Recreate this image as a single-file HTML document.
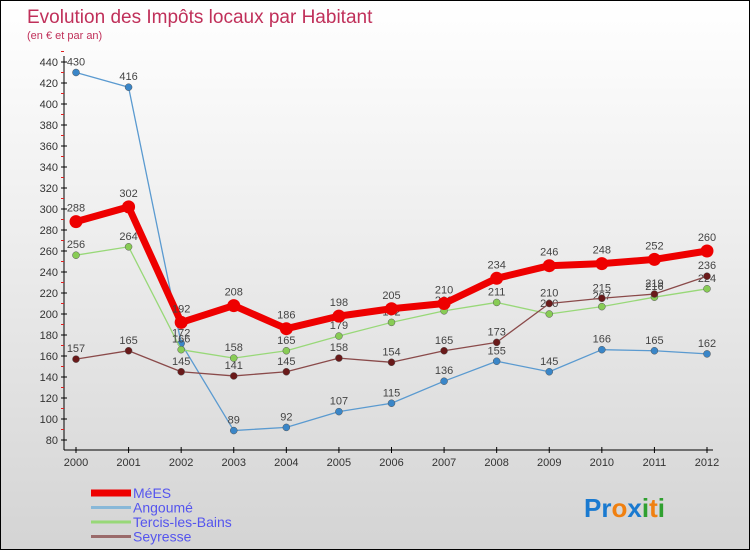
<!DOCTYPE html>
<html><head><meta charset="utf-8"><style>
body{margin:0}
#c{width:748px;height:548px;border:1px solid #000;background:linear-gradient(#fff,#f3f3f3 30%,#d4d4d4);position:relative;font-family:"Liberation Sans",sans-serif;overflow:hidden}
svg{position:absolute;left:0;top:0}
</style></head><body>
<div id="c">
<svg id="s" width="748" height="548">
<text x="26" y="22" font-size="19" fill="#c0305a">Evolution des Impôts locaux par Habitant</text>
<text x="26" y="38" font-size="11" fill="#c0305a">(en € et par an)</text>
<g id="ax"></g><g id="ser"></g>
<g font-size="26" font-weight="bold">
<text x="583" y="516"><tspan fill="#1a7ad0">Pr</tspan><tspan fill="#f08010">o</tspan><tspan fill="#1a7ad0">x</tspan><tspan fill="#30a030">i</tspan><tspan fill="#f08010">t</tspan><tspan fill="#30a030">i</tspan></text></g>
</svg>
</div>
<script>
const years=[2000,2001,2002,2003,2004,2005,2006,2007,2008,2009,2010,2011,2012];
const yTicks=[80,100,120,140,160,180,200,220,240,260,280,300,320,340,360,380,400,420,440];
const mees=[288,302,192,208,186,198,205,210,234,246,248,252,260];
const angoume=[430,416,172,89,92,107,115,136,155,145,166,165,162];
const tercis=[256,264,166,158,165,179,192,203,211,200,207,216,224];
const seyresse=[157,165,145,141,145,158,154,165,173,210,215,219,236];
const NS="http://www.w3.org/2000/svg";
const X=i=>75+i*(706-75)/(years.length-1);
const Y=v=>439-(v-80)*1.05;
function el(t,a,p){const e=document.createElementNS(NS,t);for(const k in a)e.setAttribute(k,a[k]);p.appendChild(e);return e;}
const ax=document.getElementById('ax');
let yl=el('line',{x1:63,y1:55,x2:63,y2:449,stroke:'#000'},ax);


let xl=el('line',{x1:63,y1:449,x2:712,y2:449,stroke:'#000'},ax);


yTicks.forEach(v=>{
 el('line',{x1:60,x2:66,y1:Y(v),y2:Y(v),stroke:'#000'},ax);
 el('line',{x1:60,x2:63,y1:Y(v+10),y2:Y(v+10),stroke:'#e02020'},ax);
 const t=el('text',{x:57,y:Y(v)+4,'text-anchor':'end','font-size':11,fill:'#333'},ax);t.textContent=v;
 
 
});
years.forEach((y,i)=>{
 el('line',{x1:X(i),x2:X(i),y1:446,y2:452,stroke:'#000'},ax);
 const t=el('text',{x:X(i),y:465,'text-anchor':'middle','font-size':11,fill:'#333'},ax);t.textContent=y;
 
 
});
const ser=document.getElementById('ser');
const S=[[angoume,'#5a9ad0','#3a86c8',1.3,3.5,'angoume'],[tercis,'#98d878','#88cc55',1.3,3.5,'tercis-les-bains'],[seyresse,'#8a4a4a','#6a1a1a',1.3,3.5,'seyresse'],[mees,'#ee0000','#ee0000',7,6.5,'mees']];
S.forEach(([d,lc,pc,w,r,n])=>{
 const g=el('g',{},ser);
 
 
 el('polyline',{points:d.map((v,i)=>X(i)+','+Y(v)).join(' '),fill:'none',stroke:lc,'stroke-width':w,'stroke-linejoin':'round'},g);
 d.forEach((v,i)=>{
  const c=el('circle',{cx:X(i),cy:Y(v),r:r,fill:pc,stroke:w>2?'none':'#555','stroke-width':0.5},g);
  
  
  const t=el('text',{x:X(i),y:Y(v)-(w>2?10:7),'text-anchor':'middle','font-size':11,fill:'#444'},g);t.textContent=v;
 });
});
const L=[['MéES','#ee0000',7],['Angoumé','#88b8d8',3],['Tercis-les-Bains','#98d878',3],['Seyresse','#9a6a6a',3]];
L.forEach(([n,c,w],i)=>{
 const y=492+i*14.5;
 const g=el('g',{},ser);
 
 
 el('line',{x1:90,x2:129+0,y1:y,y2:y,stroke:c,'stroke-width':w},g);
 el('line',{x1:90,x2:130,y1:y,y2:y,stroke:c,'stroke-width':w},g);
 const t=el('text',{x:132,y:y+5,'font-size':14,fill:'#5555ee'},g);t.textContent=n;
});
</script>
</body></html>
